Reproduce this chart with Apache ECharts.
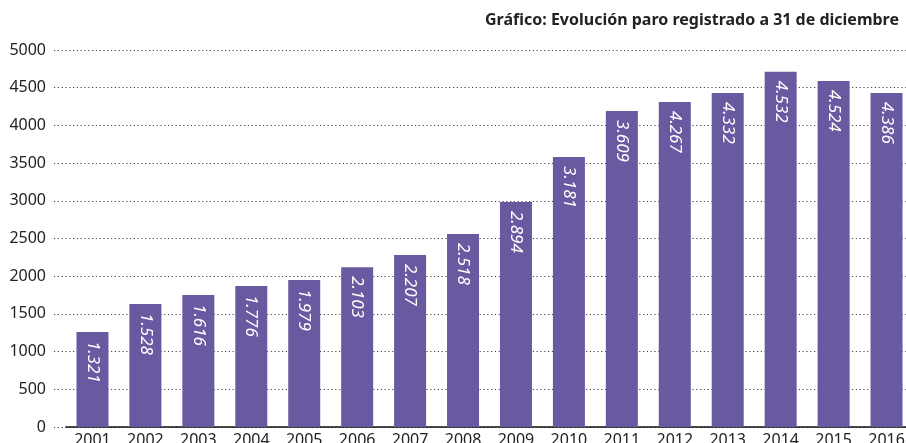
<!DOCTYPE html>
<html>
<head>
<meta charset="utf-8">
<script src="https://cdn.jsdelivr.net/npm/echarts@6/dist/echarts.min.js"></script>
<style>
  html, body { margin: 0; padding: 0; background: #fff; }
  #chartBox { width: 906px; height: 443px; }
</style>
</head>
<body>
<div id="chartBox"></div>
<script>
// años
const years = ['2001', '2002', '2003', '2004', '2005', '2006', '2007', '2008',
  '2009', '2010', '2011', '2012', '2013', '2014', '2015', '2016']
// altura de las barras tal como se dibujan
const barHeights = [1260, 1630, 1750, 1870, 1950, 2120, 2280, 2560,
  2985, 3580, 4190, 4310, 4430, 4710, 4590, 4430]
// cifras rotuladas dentro de cada barra
const labelValues = [1321, 1528, 1616, 1776, 1979, 2103, 2207, 2518,
  2894, 3181, 3609, 4267, 4332, 4532, 4524, 4386]

const fmt = v => String(v).replace(/\B(?=(\d{3})+(?!\d))/g, '.')

let myChart = echarts.init(document.getElementById('chartBox'))
myChart.setOption({
  animation: false,
  textStyle: { fontFamily: 'Noto Sans' },
  title: {
    text: 'Gráfico: Evolución paro registrado a 31 de diciembre',
    right: 2,
    top: 7,
    textStyle: { fontSize: 16, fontWeight: 'bold', color: '#222', fontFamily: 'Noto Sans' }
  },
  // grid 0: rejilla punteada y etiquetas del eje Y; grid 1: barras
  grid: [
    { left: 54, top: 50, right: 0, height: 377, outerBoundsMode: 'none' },
    { left: 66, top: 50, width: 847, height: 377, outerBoundsMode: 'none' }
  ],
  xAxis: [{
    gridIndex: 0,
    type: 'value',
    show: false
  }, {
    gridIndex: 1,
    type: 'category',
    data: years,
    axisLine: { lineStyle: { color: '#111', width: 1.5 } },
    axisTick: { show: false },
    axisLabel: { color: '#222', fontSize: 16, margin: 5 }
  }],
  yAxis: [{
    gridIndex: 0,
    type: 'value',
    min: 0,
    max: 5000,
    interval: 500,
    axisLine: { show: false },
    axisTick: { show: false },
    axisLabel: { color: '#222', fontSize: 16, margin: 8, formatter: v => String(v) },
    splitLine: { lineStyle: { color: '#444', type: [1.2, 2.6], width: 1.2 } }
  }, {
    gridIndex: 1,
    type: 'value',
    min: 0,
    max: 5000,
    show: false
  }],
  series: [{
    type: 'bar',
    xAxisIndex: 1,
    yAxisIndex: 1,
    data: barHeights,
    barWidth: 32,
    itemStyle: { color: '#6959a1' },
    label: {
      show: true,
      position: 'insideTop',
      rotate: -90,
      align: 'left',
      verticalAlign: 'middle',
      distance: 9,
      color: '#fff',
      fontSize: 17,
      fontStyle: 'italic',
      formatter: p => fmt(labelValues[p.dataIndex])
    }
  }]
})
</script>
</body>
</html>
